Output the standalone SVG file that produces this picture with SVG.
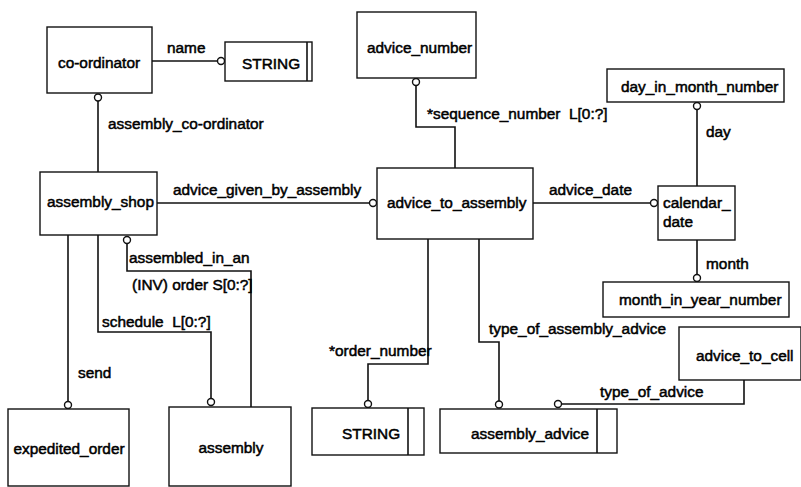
<svg xmlns="http://www.w3.org/2000/svg" width="801" height="487" viewBox="0 0 801 487">
<style>
.box{fill:#fff;stroke:#111;stroke-width:1.4}
.ln{fill:none;stroke:#111;stroke-width:1.6}
.c{fill:#fff;stroke:#111;stroke-width:1.4}
text{font-family:"Liberation Sans",Arial,sans-serif;font-size:15.4px;fill:#000;stroke:#000;stroke-width:0.5;white-space:pre}
.m{text-anchor:middle}
</style>
<rect width="801" height="487" fill="#fff"/>
<g id="connectors">
  <path class="ln" d="M152,61 H217.5"/><circle class="c" cx="221" cy="61" r="3.5"/>
  <text x="167" y="53">name</text>
  <path class="ln" d="M98,101 V172"/><circle class="c" cx="98" cy="97.5" r="3.5"/>
  <text x="108" y="129">assembly_co-ordinator</text>
  <path class="ln" d="M416,85.5 V127 H455 V168"/><circle class="c" cx="416" cy="82" r="3.5"/>
  <text x="427" y="119" xml:space="preserve">*sequence_number  L[0:?]</text>
  <path class="ln" d="M697,109.5 V186"/><circle class="c" cx="697" cy="106" r="3.5"/>
  <text x="706" y="137">day</text>
  <path class="ln" d="M157,203 H369.5"/><circle class="c" cx="373" cy="203" r="3.5"/>
  <text x="173" y="195">advice_given_by_assembly</text>
  <path class="ln" d="M533,203 H650.5"/><circle class="c" cx="654" cy="203" r="3.5"/>
  <text x="549" y="195">advice_date</text>
  <path class="ln" d="M697,240 V274.5"/><circle class="c" cx="697" cy="278" r="3.5"/>
  <text x="706" y="269">month</text>
  <path class="ln" d="M127,243.5 V271 H251 V407"/><circle class="c" cx="127" cy="240" r="3.5"/>
  <text x="129" y="263">assembled_in_an</text>
  <text x="132" y="290">(INV) order S[0:?]</text>
  <path class="ln" d="M98,235 V332 H211 V398.5"/><circle class="c" cx="211" cy="402" r="3.5"/>
  <text x="102" y="327" xml:space="preserve">schedule  L[0:?]</text>
  <path class="ln" d="M68,235 V401.5"/><circle class="c" cx="68" cy="405" r="3.5"/>
  <text x="78" y="378">send</text>
  <path class="ln" d="M428,239 V364 H368 V400.5"/><circle class="c" cx="368" cy="404" r="3.5"/>
  <text x="329" y="356">*order_number</text>
  <path class="ln" d="M479,239 V342 H499 V401"/><circle class="c" cx="499" cy="404.5" r="3.5"/>
  <text x="489" y="334">type_of_assembly_advice</text>
  <path class="ln" d="M744,380 V404 H561.5"/><circle class="c" cx="558" cy="404" r="3.5"/>
  <text x="600" y="397">type_of_advice</text>
</g>
<g id="co-ordinator"><rect class="box" x="47" y="27" width="105" height="66"/><text class="m" x="99" y="68">co-ordinator</text></g>
<g id="string1"><rect class="box" x="225" y="42" width="87" height="39"/><path class="ln" d="M307,42 V81"/><text x="242" y="69">STRING</text></g>
<g id="advice_number"><rect class="box" x="357" y="12" width="119" height="66"/><text x="367" y="53">advice_number</text></g>
<g id="day_in_month_number"><rect class="box" x="607" y="69" width="177" height="33"/><text x="621" y="92">day_in_month_number</text></g>
<g id="assembly_shop"><rect class="box" x="40" y="172" width="117" height="63"/><text x="47" y="207">assembly_shop</text></g>
<g id="advice_to_assembly"><rect class="box" x="377" y="168" width="156" height="71"/><text x="387" y="208">advice_to_assembly</text></g>
<g id="calendar_date"><rect class="box" x="658" y="186" width="77" height="54"/><text x="663" y="208">calendar_</text><text x="663" y="227">date</text></g>
<g id="month_in_year_number"><rect class="box" x="603" y="282" width="186" height="35"/><text x="619" y="305">month_in_year_number</text></g>
<g id="advice_to_cell"><rect class="box" x="679" y="327" width="122" height="53"/><text x="696" y="361">advice_to_cell</text></g>
<g id="expedited_order"><rect class="box" x="8" y="409" width="121" height="77"/><text class="m" x="69" y="454">expedited_order</text></g>
<g id="assembly"><rect class="box" x="169" y="407" width="122" height="79"/><text class="m" x="231" y="453">assembly</text></g>
<g id="string2"><rect class="box" x="312" y="408" width="112" height="47"/><path class="ln" d="M408,408 V455"/><text x="342" y="439">STRING</text></g>
<g id="assembly_advice"><rect class="box" x="440" y="409" width="177" height="44"/><path class="ln" d="M597,409 V453"/><text x="471" y="439">assembly_advice</text></g>
</svg>
